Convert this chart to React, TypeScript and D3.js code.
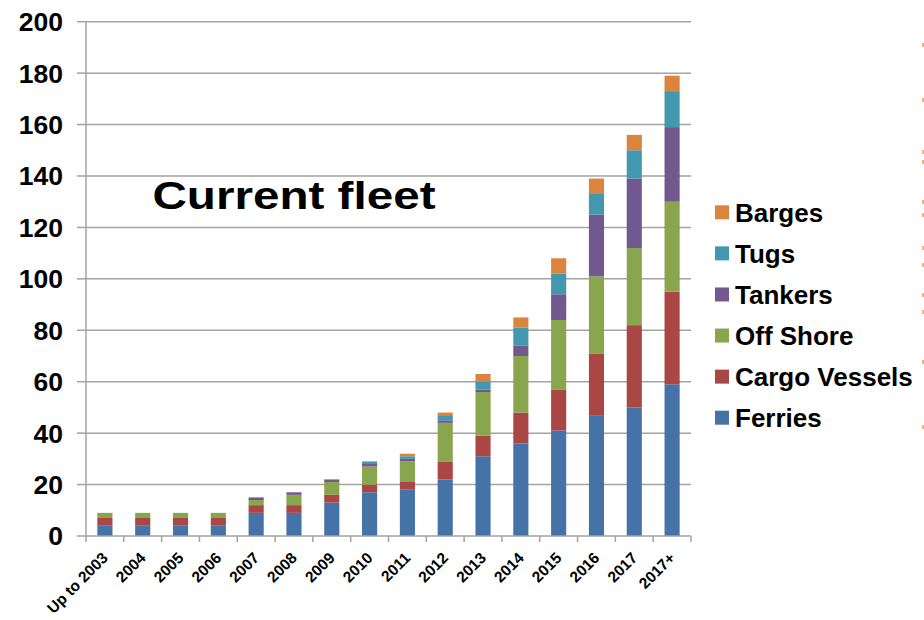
import React from "react";
import * as d3 from "d3";

// Fleet size by year of delivery, stacked by vessel type
const categories = [
  "Up to 2003", "2004", "2005", "2006", "2007", "2008", "2009", "2010",
  "2011", "2012", "2013", "2014", "2015", "2016", "2017", "2017+",
];
const ferries = [4, 4, 4, 4, 9, 9, 13, 17, 18, 22, 31, 36, 41, 47, 50, 59];
const cargoVessels = [3, 3, 3, 3, 3, 3, 3, 3, 3, 7, 8, 12, 16, 24, 32, 36];
const offShore = [2, 2, 2, 2, 2, 4, 5, 7, 8, 15, 17, 22, 27, 30, 30, 35];
const tankers = [0, 0, 0, 0, 1, 1, 1, 1, 1, 1, 1, 4, 10, 24, 27, 29];
const tugs = [0, 0, 0, 0, 0, 0, 0, 1, 1, 2, 3, 7, 8, 8, 11, 14];
const barges = [0, 0, 0, 0, 0, 0, 0, 0, 1, 1, 3, 4, 6, 6, 6, 6];

const seriesNames = ["Ferries", "Cargo Vessels", "Off Shore", "Tankers", "Tugs", "Barges"];
const seriesValues = [ferries, cargoVessels, offShore, tankers, tugs, barges];
const seriesColors = ["#4572A7", "#AA4643", "#89A54E", "#71588F", "#4198AF", "#DB843D"];
const yTicks = [0, 20, 40, 60, 80, 100, 120, 140, 160, 180, 200];

const FONT = "'Liberation Sans', Arial, Helvetica, sans-serif";

export default function App() {
  const width = 924;
  const height = 620;
  const left = 86;
  const right = 691;
  const bottom = 536;
  const top = 21.7;

  const rows = categories.map((c, i) => {
    const r: Record<string, number | string> = { category: c };
    seriesNames.forEach((s, k) => (r[s] = seriesValues[k][i]));
    return r;
  });
  const stacked = d3.stack<any>().keys(seriesNames)(rows);

  const x = d3
    .scaleBand<string>()
    .domain(categories)
    .range([left, right])
    .paddingInner(0.6)
    .paddingOuter(0.3);
  const y = d3.scaleLinear().domain([0, 200]).range([bottom, top]);
  const step = x.step();

  const legendOrder = [...seriesNames].reverse();
  const legendY = d3.scalePoint<string>().domain(legendOrder).range([212.3, 417.7]);

  // Slivers of a neighbouring panel showing at the right border
  const edgeSlivers = [45, 100, 152, 162, 202, 215, 248, 265, 295, 312, 362, 427];

  return (
    <svg
      width={width}
      height={height}
      style={{ position: "absolute", left: 0, top: 0, background: "#fff" }}
      fontFamily={FONT}
    >
      <rect width={width} height={height} fill="#fff" />
      {/* gridlines */}
      {yTicks.map((t) => (
        <g key={t}>
          {t > 0 && (
            <line x1={left} x2={right} y1={y(t)} y2={y(t)} stroke="#a3a3a3" strokeWidth={1.5} />
          )}
          <line x1={77} x2={left} y1={y(t)} y2={y(t)} stroke="#a3a3a3" strokeWidth={1.5} />
          <text
            x={63}
            y={y(t) + 9.4}
            textAnchor="end"
            fontSize={26.5}
            fontWeight="bold"
            fill="#000"
          >
            {t}
          </text>
        </g>
      ))}

      {/* bars */}
      {stacked.map((layer, k) => (
        <g key={layer.key} fill={seriesColors[k]}>
          {layer.map((d, i) =>
            d[1] - d[0] > 0 ? (
              <rect
                key={i}
                x={x(categories[i])}
                width={x.bandwidth()}
                y={y(d[1])}
                height={y(d[0]) - y(d[1])}
              />
            ) : null
          )}
        </g>
      ))}

      {/* axes */}
      <line x1={left} x2={left} y1={top} y2={bottom} stroke="#a3a3a3" strokeWidth={1.5} />
      <line x1={left} x2={right} y1={bottom} y2={bottom} stroke="#a3a3a3" strokeWidth={1.5} />
      {d3.range(categories.length + 1).map((i) => (
        <line
          key={i}
          x1={left + i * step}
          x2={left + i * step}
          y1={bottom}
          y2={bottom + 6}
          stroke="#a3a3a3"
          strokeWidth={1.5}
        />
      ))}
      {categories.map((c) => {
        const cx = (x(c) as number) + x.bandwidth() / 2 + 4;
        const cy = 559;
        return (
          <text
            key={c}
            x={cx}
            y={cy}
            transform={`rotate(-45 ${cx} ${cy})`}
            textAnchor="end"
            fontSize={15.5}
            fontWeight="bold"
            fill="#000"
          >
            {c}
          </text>
        );
      })}

      {/* title */}
      <text
        x={152.5}
        y={209}
        fontSize={39}
        fontWeight="bold"
        fill="#000"
        textLength={283}
        lengthAdjust="spacingAndGlyphs"
      >
        Current fleet
      </text>

      {/* legend */}
      {legendOrder.map((s) => {
        const k = seriesNames.indexOf(s);
        const cy = legendY(s) as number;
        return (
          <g key={s}>
            <rect x={715} y={cy - 7} width={14} height={14} fill={seriesColors[k]} />
            <text x={735} y={cy + 9.3} fontSize={26} fontWeight="bold" fill="#000">
              {s}
            </text>
          </g>
        );
      })}

      {edgeSlivers.map((sy, i) => (
        <rect key={i} x={922} y={sy - 2} width={2} height={4} fill="#D9944F" opacity={0.7} />
      ))}
    </svg>
  );
}
